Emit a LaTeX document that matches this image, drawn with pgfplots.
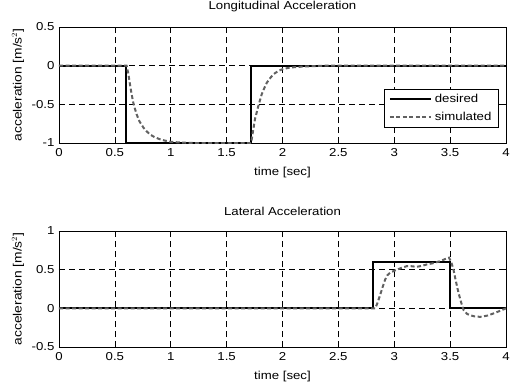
\documentclass[border=0pt]{standalone}
\usepackage{fontspec}
\setmainfont{Liberation Sans}[FakeStretch=1.15]
\usepackage{pgfplots}
\pgfplotsset{compat=1.18}
\definecolor{simgray}{gray}{0.38}
\tikzset{
  desired/.style={black, line width=1.9pt},
  simulated/.style={simgray, line width=2pt, dash pattern=on 4pt off 2.5pt},
}
\pgfplotsset{
  matlab/.style={
    scale only axis,
    width=447pt, height=116pt,
    xmin=0, xmax=4,
    xtick={0,0.5,1,1.5,2,2.5,3,3.5,4},
    xticklabels={0,0.5,1,1.5,2,2.5,3,3.5,4},
    /pgf/number format/assume math mode=true,
    tick align=inside, tick pos=both,
    major tick length=4pt,
    axis line style={line width=0.9pt},
    every tick/.style={black, line width=0.6pt},
    grid=major,
    major grid style={black, line width=0.6pt, dash pattern=on 6pt off 4pt},
    tick label style={font=\fontsize{11.5}{13}\selectfont},
    yticklabel style={xshift=-1pt},
    xticklabel style={yshift=-2pt},
    label style={font=\fontsize{11.5}{13}\selectfont},
    title style={font=\fontsize{11.5}{13}\selectfont, at={(axis description cs:0.5,1)}, anchor=center, yshift=14pt},
    xlabel style={at={(axis description cs:0.5,0)}, anchor=center, yshift=-30pt},
    ylabel style={at={(axis description cs:-0.0917,0.5)}, anchor=center, font=\fontsize{12}{14}\selectfont},
    xlabel={time [sec]},
    ylabel={acceleration [m/s$^2$]},
  }
}
\begin{document}
\begin{tikzpicture}
\useasboundingbox (0,0) rectangle (510pt,-386pt);
\begin{axis}[matlab,
  at={(59pt,-143pt)}, anchor=south west,
  ymin=-1, ymax=0.5,
  ytick={-1,-0.5,0,0.5},
  yticklabels={-1,-0.5,0,0.5},
  title={Longitudinal Acceleration},
  legend style={at={(axis description cs:0.984,0.129)}, anchor=south east,
    font=\fontsize{11.5}{13}\selectfont, draw=black, line width=0.8pt,
    inner xsep=4pt, inner ysep=4pt, row sep=5pt, fill=white,
    nodes={inner xsep=3pt, inner ysep=1.5pt}},
  legend cell align=left,
]
\addplot[desired, legend image code/.code={\draw[black, line width=1.9pt] (0pt,0pt) -- (41pt,0pt);}]
  coordinates {(0,0) (0.6,0) (0.6,-1) (1.72,-1) (1.72,0) (4,0)};
\addlegendentry{desired}
\addplot[simulated, legend image code/.code={\draw[simgray, line width=2pt, dash pattern=on 4pt off 2.5pt] (0pt,0pt) -- (41pt,0pt);}] coordinates {
(0,0) (0.605,0) (0.62,-0.1) (0.635,-0.24) (0.65,-0.37) (0.665,-0.48) (0.68,-0.56)
(0.695,-0.63) (0.72,-0.72) (0.755,-0.8) (0.785,-0.85) (0.815,-0.89) (0.85,-0.92)
(0.9,-0.95) (0.95,-0.97) (1.0,-0.985) (1.1,-0.995) (1.2,-1) (1.72,-1) (1.73,-0.9)
(1.754,-0.69) (1.784,-0.52) (1.814,-0.37) (1.84,-0.28) (1.86,-0.22) (1.89,-0.16)
(1.92,-0.11) (1.96,-0.07) (2.0,-0.045) (2.05,-0.03) (2.1,-0.02) (2.2,-0.01) (2.4,0) (4,0)};
\addlegendentry{simulated}
\end{axis}
\begin{axis}[matlab,
  at={(59pt,-347pt)}, anchor=south west,
  ymin=-0.5, ymax=1,
  ytick={-0.5,0,0.5,1},
  yticklabels={-0.5,0,0.5,1},
  title={Lateral Acceleration},
]
\addplot[desired] coordinates {(0,0) (2.81,0) (2.81,0.6) (3.5,0.6) (3.5,0) (4,0)};
\addplot[simulated] coordinates {
(0,0) (2.83,0) (2.85,0.07) (2.873,0.17) (2.895,0.27) (2.918,0.37) (2.94,0.43)
(2.962,0.46) (2.99,0.48) (3.022,0.5) (3.06,0.52) (3.11,0.545) (3.15,0.545)
(3.2,0.537) (3.25,0.55) (3.29,0.567) (3.35,0.585) (3.41,0.61) (3.46,0.64)
(3.49,0.655) (3.51,0.6) (3.53,0.5) (3.55,0.36) (3.575,0.2) (3.6,0.07) (3.62,-0.02)
(3.65,-0.07) (3.68,-0.09) (3.72,-0.105) (3.77,-0.11) (3.83,-0.095) (3.89,-0.065)
(3.95,-0.03) (4,0)};
\end{axis}
\end{tikzpicture}
\end{document}
